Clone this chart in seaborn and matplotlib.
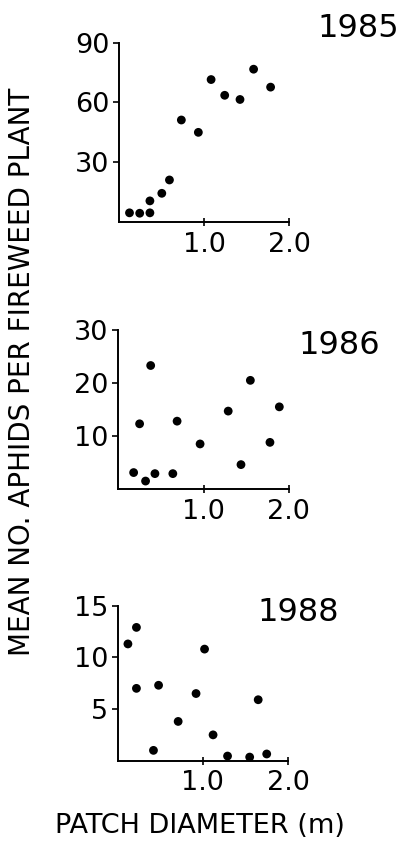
import matplotlib
matplotlib.use("Agg")
import matplotlib.pyplot as plt
import seaborn as sns

# ── data ──────────────────────────────────────────────────────────────────────

YEARS = ["1985", "1986", "1988"]

diam_1985 = [0.12, 0.24, 0.36, 0.36, 0.50, 0.59, 0.73, 0.93, 1.08, 1.24, 1.42, 1.58, 1.78]
aphids_1985 = [4.6, 4.4, 4.6, 10.6, 14.4, 21.1, 51.2, 45.0, 71.5, 63.6, 61.5, 76.7, 67.7]

diam_1986 = [0.18, 0.25, 0.32, 0.38, 0.43, 0.64, 0.69, 0.96, 1.29, 1.44, 1.55, 1.78, 1.89]
aphids_1986 = [3.1, 12.3, 1.5, 23.3, 2.9, 2.9, 12.8, 8.5, 14.7, 4.6, 20.5, 8.8, 15.5]

diam_1988 = [0.12, 0.22, 0.22, 0.42, 0.48, 0.71, 0.92, 1.02, 1.12, 1.29, 1.55, 1.65, 1.75]
aphids_1988 = [11.3, 12.9, 7.0, 1.0, 7.3, 3.8, 6.5, 10.8, 2.5, 0.45, 0.35, 5.9, 0.65]

Y_TICKS = [[30, 60, 90], [10, 20, 30], [5, 10, 15]]
Y_MAX = [90, 30, 15]
X_TICKS = [1.0, 2.0]
X_TICK_LABELS = ["1.0", "2.0"]

# ── layout ────────────────────────────────────────────────────────────────────

W, H = 404, 843
# [left, top, width, height] in pixels from top-left
PANELS = [
    (119.3, 42.7, 170.0, 179.3),
    (118.3, 330.0, 170.4, 159.0),
    (117.7, 605.7, 170.3, 155.0),
]
YEAR_POS = [(317, 37), (298, 354), (257, 621)]

sns.set_style("ticks")
plt.rcParams["font.family"] = ["DejaVu Sans"]

fig = plt.figure(figsize=(W / 100, H / 100), dpi=100)
fig.patch.set_facecolor("white")

series = [(diam_1985, aphids_1985), (diam_1986, aphids_1986), (diam_1988, aphids_1988)]

for i, (px, py) in enumerate(series):
    l, t, w, h = PANELS[i]
    ax = fig.add_axes([l / W, 1 - (t + h) / H, w / W, h / H])
    sns.scatterplot(x=px, y=py, ax=ax, color="black", s=40,
                    edgecolor="none", linewidth=0, legend=False)
    ax.set_xlim(0, 2.0)
    ax.set_ylim(0, Y_MAX[i])
    ax.set_xticks(X_TICKS)
    ax.set_xticklabels(X_TICK_LABELS)
    ax.set_yticks(Y_TICKS[i])
    sns.despine(ax=ax)
    for side in ("left", "bottom"):
        ax.spines[side].set_linewidth(1.4)
        ax.spines[side].set_color("black")
    ax.tick_params(axis="both", direction="out", length=4, width=1.2,
                   labelsize=19.5, colors="black", pad=3)
    ax.tick_params(axis="x", direction="inout", length=6, pad=4)
    ax.set_facecolor("white")
    for coll in ax.collections:
        coll.set_clip_on(False)

    yx, yy = YEAR_POS[i]
    fig.text(yx / W, 1 - yy / H, YEARS[i], fontsize=23, ha="left",
             va="baseline", color="black")

fig.text(22 / W, 1 - 372 / H, "MEAN NO. APHIDS PER FIREWEED PLANT",
         rotation=90, ha="center", va="center", fontsize=20, color="black")
fig.text(200 / W, 1 - 826 / H, "PATCH DIAMETER (m)",
         ha="center", va="center", fontsize=19.5, color="black")

fig.savefig("out.png", dpi=100, facecolor="white")
plt.close(fig)
